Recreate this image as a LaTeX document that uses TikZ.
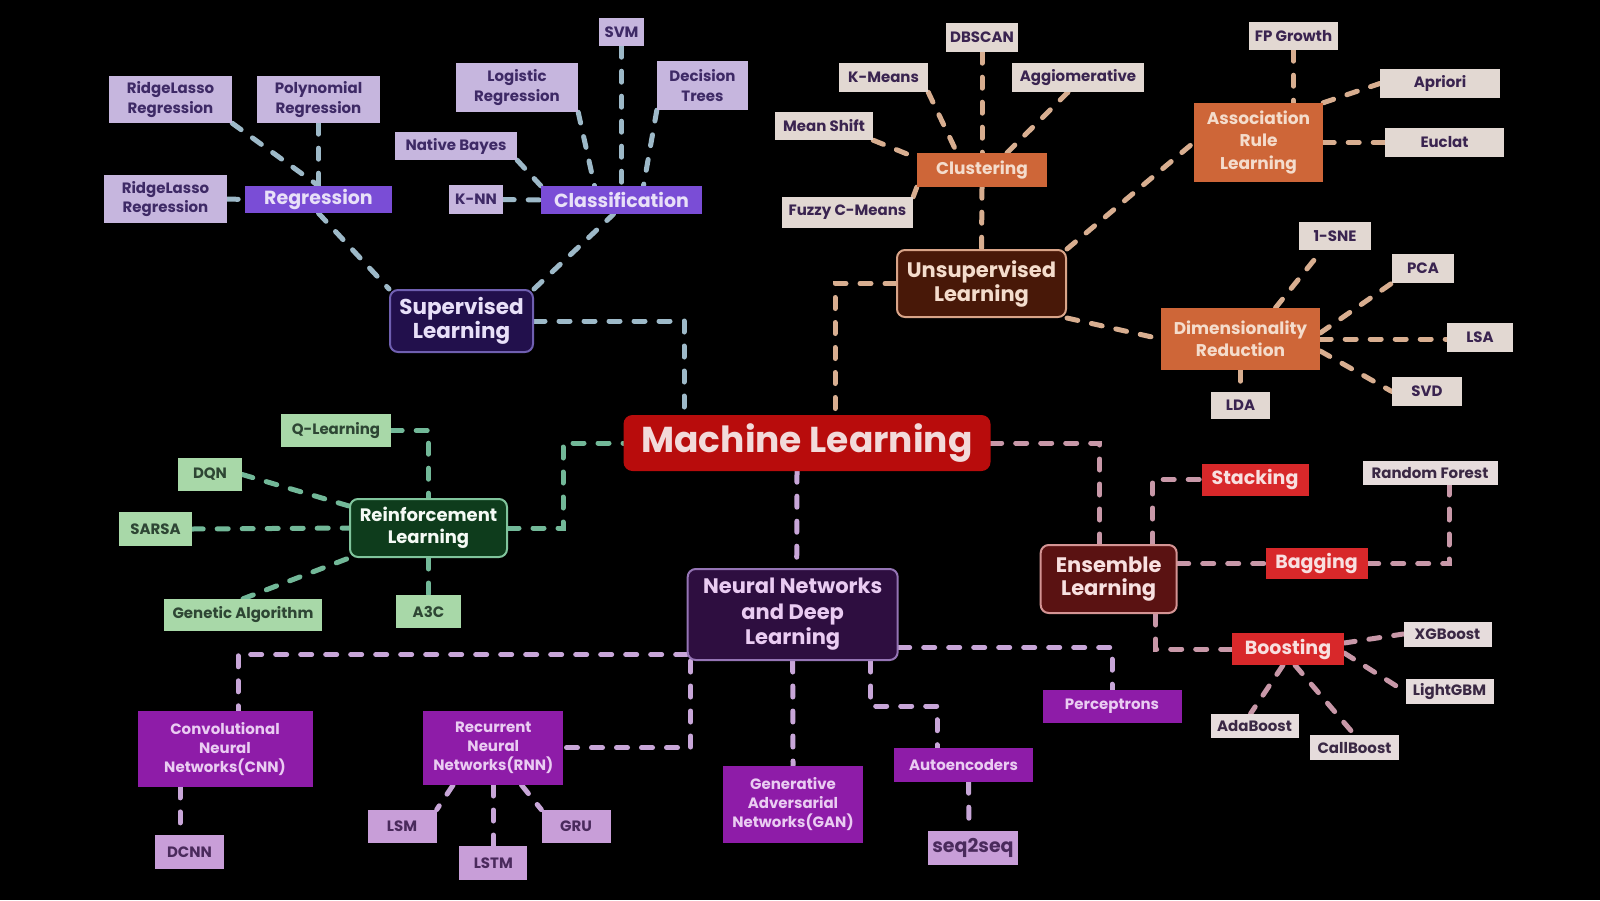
\documentclass[tikz,border=0pt]{standalone}
\usepackage{fontspec}
\setmainfont{Poppins}[BoldFont={Poppins Bold}]
\usetikzlibrary{calc}
\pgfdeclarelayer{bg}\pgfdeclarelayer{edges}
\pgfsetlayers{bg,edges,main}

% branch palettes
\definecolor{supline}{HTML}{9DB9C8}
\definecolor{supleaf}{HTML}{C6B6DE}
\definecolor{supleaftxt}{HTML}{3E2A66}
\definecolor{supmid}{HTML}{7A4DD6}
\definecolor{supmidtxt}{HTML}{E8E0F8}
\definecolor{supmain}{HTML}{22104C}
\definecolor{supmainbd}{HTML}{6F5FB0}
\definecolor{unsline}{HTML}{D8AE90}
\definecolor{unsleaf}{HTML}{E2D8D2}
\definecolor{unsleaftxt}{HTML}{3A2450}
\definecolor{unsmid}{HTML}{CE6638}
\definecolor{unsmidtxt}{HTML}{F4DCCC}
\definecolor{unsmain}{HTML}{481808}
\definecolor{unsmainbd}{HTML}{D9A488}
\definecolor{rlline}{HTML}{72B898}
\definecolor{rlleaf}{HTML}{A8D8A8}
\definecolor{rlleaftxt}{HTML}{2E4634}
\definecolor{rlmain}{HTML}{0E3C1C}
\definecolor{rlmainbd}{HTML}{80C49C}
\definecolor{mlred}{HTML}{B80C0C}
\definecolor{mltxt}{HTML}{F2DADA}
\definecolor{ensline}{HTML}{C898A8}
\definecolor{ensleaf}{HTML}{E6DCDC}
\definecolor{ensleaftxt}{HTML}{3A2844}
\definecolor{ensmid}{HTML}{D8282A}
\definecolor{ensmidtxt}{HTML}{F8E0E0}
\definecolor{ensmain}{HTML}{5A1212}
\definecolor{ensmainbd}{HTML}{D49494}
\definecolor{nnline}{HTML}{C8A6D8}
\definecolor{nnleaf}{HTML}{C89ED8}
\definecolor{nnleaftxt}{HTML}{4A2A5C}
\definecolor{nnmid}{HTML}{8E1CA8}
\definecolor{nnmidtxt}{HTML}{EACCF2}
\definecolor{nnmain}{HTML}{2E0E40}
\definecolor{nnmainbd}{HTML}{9474B4}

\tikzset{
  box/.style={inner sep=0pt, align=center},
  sz/.style 2 args={minimum width=#1pt, minimum height=#2pt},
  fs/.style 2 args={font=\fontsize{#1}{#2}\selectfont\bfseries},
  mainbox/.style={box, rounded corners=8pt, line width=2pt},
  link/.style={line width=5pt, dash pattern=on 11pt off 14pt, line cap=round},
  % supervised
  supleafbox/.style={box, fill=supleaf, text=supleaftxt, fs={15}{19.5}},
  supmidbox/.style={box, fill=supmid, text=supmidtxt, fs={19}{23}},
  supmainbox/.style={mainbox, fill=supmain, draw=supmainbd, text=supmidtxt, fs={21.5}{24}},
  suplink/.style={link, draw=supline},
  % unsupervised
  unsleafbox/.style={box, fill=unsleaf, text=unsleaftxt, fs={15}{19}},
  unsmidbox/.style={box, fill=unsmid, text=unsmidtxt, fs={17}{22.5}},
  unsmainbox/.style={mainbox, fill=unsmain, draw=unsmainbd, text=unsmidtxt, fs={21}{24}},
  unslink/.style={link, draw=unsline},
  % reinforcement
  rlleafbox/.style={box, fill=rlleaf, text=rlleaftxt, fs={15}{19}},
  rlmainbox/.style={mainbox, fill=rlmain, draw=rlmainbd, text=white!88!rlleaf, fs={18}{21.5}},
  rllink/.style={link, draw=rlline},
  % ensemble
  ensleafbox/.style={box, fill=ensleaf, text=ensleaftxt, fs={15}{19}},
  ensmidbox/.style={box, fill=ensmid, text=ensmidtxt, fs={19}{22}},
  ensmainbox/.style={mainbox, fill=ensmain, draw=ensmainbd, text=ensmidtxt, fs={21}{23}},
  enslink/.style={link, draw=ensline},
  % neural networks
  nnleafbox/.style={box, fill=nnleaf, text=nnleaftxt, fs={15}{19}},
  nnmidbox/.style={box, fill=nnmid, text=nnmidtxt, fs={15}{19}},
  nnmainbox/.style={mainbox, fill=nnmain, draw=nnmainbd, text=nnmidtxt, fs={21}{25.5}},
  nnlink/.style={link, draw=nnline},
  % root
  rootbox/.style={box, rounded corners=9pt, fill=mlred, text=mltxt, fs={36}{40}},
}

\begin{document}
\begin{tikzpicture}[x=1pt, y=-1pt]
\useasboundingbox (0,0) rectangle (1600,900);
\begin{pgfonlayer}{bg}
  \fill[black] (0,0) rectangle (1600,900);
\end{pgfonlayer}

% ---------- root ----------
\node[rootbox, sz={367}{56}] (ml) at (807,443) {Machine Learning};

% ---------- supervised learning ----------
\node[supleafbox, sz={123}{47}] (rlt) at (170.5,99.5) {RidgeLasso\\Regression};
\node[supleafbox, sz={123}{47}] (poly) at (318.5,99.5) {Polynomial\\Regression};
\node[supleafbox, sz={123}{48}] (rll) at (165.5,199) {RidgeLasso\\Regression};
\node[supmidbox, sz={147}{27}] (reg) at (318.5,199.5) {Regression};
\node[supleafbox, sz={122}{28}] (nb) at (456,146) {Native Bayes};
\node[supleafbox, sz={54}{29}] (knn) at (476,199.5) {K-NN};
\node[supleafbox, sz={45}{28}] (svm) at (621.5,32) {SVM};
\node[supleafbox, sz={122}{49}] (lr) at (517,87.5) {Logistic\\Regression};
\node[supleafbox, sz={91}{49}] (dt) at (702.5,85.5) {Decision\\Trees};
\node[supmidbox, sz={161}{28}] (cls) at (621.5,200) {Classification};
\node[supmainbox, sz={143}{62}] (sup) at (461.5,321) {Supervised\\Learning};

% ---------- unsupervised learning ----------
\node[unsleafbox, sz={72}{29}] (dbscan) at (982,37.5) {DBSCAN};
\node[unsleafbox, sz={89}{29}] (km) at (883.5,77.5) {K-Means};
\node[unsleafbox, sz={132}{29}] (agg) at (1078,77.5) {Aggiomerative};
\node[unsleafbox, sz={98}{28}] (ms) at (824,126) {Mean Shift};
\node[unsmidbox, sz={130}{34}] (clu) at (982,170) {Clustering};
\node[unsleafbox, sz={131}{31}] (fcm) at (847.5,212.5) {Fuzzy C-Means};
\node[unsmainbox, sz={169}{67}] (uns) at (981.5,283.5) {Unsupervised\\Learning};
\node[unsleafbox, sz={89}{28}] (fp) at (1293.5,36) {FP Growth};
\node[unsleafbox, sz={120}{29}] (apr) at (1440,83.5) {Apriori};
\node[unsleafbox, sz={119}{29}] (euc) at (1444.5,142.5) {Euclat};
\node[unsmidbox, sz={129}{79}] (arl) at (1258.5,142.5) {Association\\Rule\\Learning};
\node[unsleafbox, sz={72}{28}] (tsne) at (1335,236) {1-SNE};
\node[unsleafbox, sz={62}{29}] (pca) at (1423,268.5) {PCA};
\node[unsleafbox, sz={66}{29}] (lsa) at (1480,337.5) {LSA};
\node[unsleafbox, sz={70}{29}] (svd) at (1427,391.5) {SVD};
\node[unsmidbox, sz={159}{62}] (dim) at (1240.5,339) {Dimensionality\\Reduction};
\node[unsleafbox, sz={59}{27}] (lda) at (1240.5,405.5) {LDA};

% ---------- reinforcement learning ----------
\node[rlleafbox, sz={110}{33}] (ql) at (336,430.5) {Q-Learning};
\node[rlleafbox, sz={64}{33}] (dqn) at (210,474.5) {DQN};
\node[rlleafbox, sz={73}{34}] (sarsa) at (155.5,529) {SARSA};
\node[rlmainbox, sz={157}{58}] (rl) at (428.5,528) {Reinforcement\\Learning};
\node[rlleafbox, sz={158}{32}] (ga) at (243,615) {Genetic Algorithm};
\node[rlleafbox, sz={65}{33}] (a3c) at (428.5,611.5) {A3C};

% ---------- neural networks ----------
\node[nnmainbox, sz={210}{91}] (nn) at (792.7,614.5) {Neural Networks\\and Deep\\Learning};
\node[nnmidbox, sz={175}{76}] (cnn) at (225,748.7) {Convolutional\\Neural\\Networks(CNN)};
\node[nnleafbox, sz={69}{34}] (dcnn) at (189.5,852) {DCNN};
\node[nnmidbox, sz={140}{74}] (rnn) at (493.3,747.8) {Recurrent\\Neural\\Networks(RNN)};
\node[nnleafbox, sz={69}{33}] (lsm) at (402,826.3) {LSM};
\node[nnleafbox, sz={68}{34}] (lstm) at (493.3,863) {LSTM};
\node[nnleafbox, sz={69}{33}] (gru) at (576,826.3) {GRU};
\node[nnmidbox, sz={140}{77}] (gan) at (793,804) {Generative\\Adversarial\\Networks(GAN)};
\node[nnmidbox, sz={139}{34}] (ae) at (963.5,765) {Autoencoders};
\node[nnleafbox, sz={90}{34}, fs={19}{22}] (s2s) at (973,848) {seq2seq};
\node[nnmidbox, sz={139}{33}] (perc) at (1112,706.5) {Perceptrons};

% ---------- ensemble learning ----------
\node[ensmainbox, sz={136}{68}] (ens) at (1108.7,579) {Ensemble\\Learning};
\node[ensmidbox, sz={107}{32}] (stk) at (1255,479.5) {Stacking};
\node[ensleafbox, sz={135}{24}] (rf) at (1430,473) {Random Forest};
\node[ensmidbox, sz={102}{31}] (bag) at (1316.5,563.7) {Bagging};
\node[ensmidbox, sz={112}{32}] (boost) at (1288,649) {Boosting};
\node[ensleafbox, sz={88}{25}] (xgb) at (1447.5,634) {XGBoost};
\node[ensleafbox, sz={88}{25}] (lgbm) at (1449.5,691.7) {LightGBM};
\node[ensleafbox, sz={88}{24}] (ada) at (1254.5,726) {AdaBoost};
\node[ensleafbox, sz={89}{25}] (call) at (1354.5,747.5) {CallBoost};

% bend points of elbow connectors
\coordinate (rlbend) at (563,443);
\coordinate (aebend) at (937,706);

\begin{pgfonlayer}{edges}
  % supervised
  \draw[suplink] (rlt.south east) -- (reg.north);
  \draw[suplink] (poly.south) -- (reg.north);
  \draw[suplink] (rll.east) -- (reg.west);
  \draw[suplink] (reg.south) -- (sup.north west);
  \draw[suplink] (sup.north east) -- ([xshift=-8pt]cls.south);
  \draw[suplink] (nb.south east) -- (cls.north west);
  \draw[suplink] (knn.east) -- (cls.west);
  \draw[suplink] (lr.south east) -- ([xshift=-27pt]cls.north);
  \draw[suplink] (svm.south) -- (cls.north);
  \draw[suplink] (dt.south west) -- ([xshift=22pt]cls.north);
  \draw[suplink] (sup.east) -| ([xshift=-123pt]ml.north);

  % unsupervised
  \draw[unslink] (dbscan.south) -- (clu.north);
  \draw[unslink] (km.south east) -- ([xshift=-25pt]clu.north);
  \draw[unslink] ([xshift=-10pt]agg.south) -- ([xshift=25pt]clu.north);
  \draw[unslink] (ms.south east) -- ([yshift=12pt]clu.west);
  \draw[unslink] (fcm.north east) -- (clu.south west);
  \draw[unslink] (clu.south) -- (uns.north);
  \draw[unslink] (uns.west) -| ([xshift=28pt]ml.north);
  \draw[unslink] (uns.north east) -- (arl.west);
  \draw[unslink] (uns.south east) -- (dim.west);
  \draw[unslink] (fp.south) -- (fp.south |- arl.north);
  \draw[unslink] (arl.north east) -- (apr.west);
  \draw[unslink] (arl.east) -- (euc.west);
  \draw[unslink] ([xshift=35pt]dim.north) -- ([xshift=-13pt]tsne.south);
  \draw[unslink] ([yshift=6pt]dim.east) -- (pca.south west);
  \draw[unslink] (dim.east) -- (dim.east -| lsa.west);
  \draw[unslink] ([yshift=-12pt]dim.east) -- (svd.west);
  \draw[unslink] (dim.south) -- (lda.north);

  % reinforcement
  \draw[rllink] (rl.east) -| (rlbend) -- (ml.west);
  \draw[rllink] (ql.east) -| (rl.north);
  \draw[rllink] (dqn.east) -- ([yshift=-8pt]rl.north west);
  \draw[rllink] (sarsa.east) -- (rl.west);
  \draw[rllink] (ga.north) -- (rl.south west);
  \draw[rllink] (rl.south) -- (a3c.north);

  % neural networks
  \draw[nnlink] ([xshift=-10pt]ml.south) -- ([xshift=4pt]nn.north);
  \draw[nnlink] ([yshift=-40pt]nn.west) -| ([xshift=13pt]cnn.north);
  \draw[nnlink] ([xshift=4pt]nn.south west) |- (rnn.east);
  \draw[nnlink] (nn.south) -- (gan.north);
  \draw[nnlink] ([xshift=-28pt]nn.south east) |- (aebend) -- ([xshift=-26.5pt]ae.north);
  \draw[nnlink] ([xshift=5pt]ae.south) -- ([xshift=-4pt]s2s.north);
  \draw[nnlink] ([yshift=-33pt]nn.east) -| (perc.north);
  \draw[nnlink] ([xshift=-45pt]cnn.south) -- ([xshift=-9.5pt]dcnn.north);
  \draw[nnlink] ([xshift=30pt]rnn.south west) -- (lsm.north east);
  \draw[nnlink] (rnn.south) -- (lstm.north);
  \draw[nnlink] ([xshift=-42pt]rnn.south east) -- (gru.north west);

  % ensemble
  \draw[enslink] (ml.east) -| ([xshift=-9pt]ens.north);
  \draw[enslink] ([xshift=44pt]ens.north) |- (stk.west);
  \draw[enslink] (bag.west -| ens.east) -- (bag.west);
  \draw[enslink] (bag.east) -| ([xshift=19pt]rf.south);
  \draw[enslink] ([xshift=47pt]ens.south) |- (boost.west);
  \draw[enslink] ([yshift=6pt]boost.east) -- (xgb.west);
  \draw[enslink] ([yshift=-4pt]boost.east) -- (lgbm.west);
  \draw[enslink] ([xshift=-5pt]boost.south) -- ([xshift=-4pt]ada.north);
  \draw[enslink] ([xshift=7pt]boost.south) -- (call.north);
\end{pgfonlayer}
\end{tikzpicture}
\end{document}
